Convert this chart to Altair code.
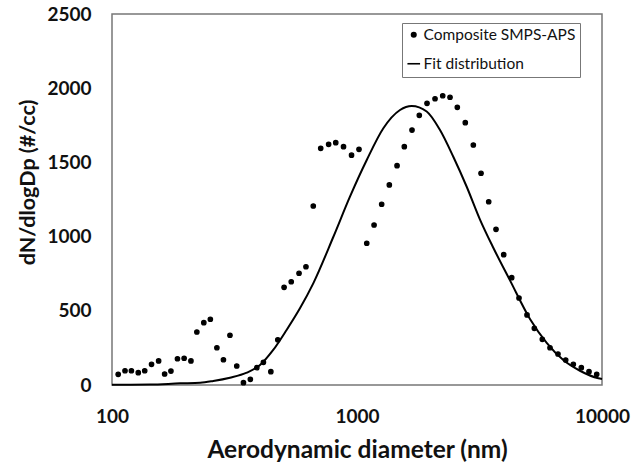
import altair as alt
import pandas as pd

# Composite SMPS-APS measured points
diam = [106, 113, 120, 128, 136, 145, 155, 164, 174, 185, 197, 210, 222, 237, 252, 268,
        285, 303, 323, 344, 367, 390, 415, 445, 475, 504, 539, 580, 619, 663, 711, 766,
        819, 881, 950, 1019, 1096, 1174, 1261, 1355, 1457, 1560, 1677, 1796, 1931, 2082,
        2238, 2397, 2567, 2767, 2984, 3208, 3448, 3693, 3970, 4280, 4584, 4942, 5294,
        5706, 6134, 6613, 7110, 7638, 8234, 8850, 9515]
conc = [72, 96, 96, 83, 96, 139, 162, 74, 94, 177, 180, 162, 357, 420, 443, 251,
        170, 335, 128, 16, 38, 117, 153, 90, 305, 658, 696, 753, 797, 1206, 1595, 1622,
        1633, 1606, 1549, 1588, 955, 1078, 1218, 1348, 1478, 1606, 1718, 1817, 1898, 1929,
        1949, 1939, 1871, 1768, 1617, 1427, 1235, 1049, 878, 723, 586, 472, 382,
        308, 251, 209, 168, 139, 117, 90, 72]

# Fit distribution curve
fit_d = [100, 143, 190, 229, 259, 303, 355, 402, 455, 516, 585, 663, 801, 936, 1096,
         1281, 1498, 1672, 1925, 2182, 2472, 2804, 3177, 3600, 4212, 5082, 5947, 6950,
         8128, 9661, 10000]
fit_y = [1, 3, 11, 15, 27, 49, 83, 135, 236, 371, 517, 685, 999, 1269, 1516,
         1730, 1853, 1880, 1843, 1718, 1538, 1336, 1115, 925, 705, 445, 284, 168,
         96, 45, 40]

series = ["Composite SMPS-APS", "Fit distribution"]

pts = pd.DataFrame({"d": diam, "n": conc, "series": series[0]})
fit = pd.DataFrame({"d": fit_d, "n": fit_y, "series": series[1]})

FONT = "Lato"

x_enc = alt.X("d:Q",
              scale=alt.Scale(type="log", domain=[100, 10000]),
              axis=alt.Axis(values=[100, 1000, 10000], format="d",
                            title="Aerodynamic diameter (nm)",
                            grid=False, ticks=False, domain=False,
                            labelPadding=22, titlePadding=12,
                            labelFontSize=19, labelFontWeight="bold",
                            titleFontSize=24.5, titleFontWeight="bold",
                            labelColor="#111", titleColor="#111",
                            labelFont=FONT, titleFont=FONT, labelFlush=False))
y_enc = alt.Y("n:Q",
              scale=alt.Scale(domain=[0, 2500], nice=False),
              axis=alt.Axis(values=[0, 500, 1000, 1500, 2000, 2500], format="d",
                            title="dN/dlogDp (#/cc)",
                            grid=False, ticks=False, domain=False,
                            labelPadding=21, titlePadding=7,
                            labelFontSize=19, labelFontWeight="bold",
                            titleFontSize=21.5, titleFontWeight="bold",
                            labelColor="#111", titleColor="#111",
                            labelFont=FONT, titleFont=FONT, titleY=168))

points = alt.Chart(pts).mark_point(filled=False, color="black", fill="black",
                                   stroke="black", strokeWidth=1.2,
                                   opacity=1, fillOpacity=1).encode(
    x=x_enc,
    y=y_enc,
    shape=alt.Shape("series:N",
                    scale=alt.Scale(domain=series, range=["circle", "stroke"]),
                    legend=alt.Legend(title=None, orient="none",
                                      legendX=290, legendY=9,
                                      strokeColor="#777", padding=4,
                                      labelFont=FONT, labelFontSize=15.5,
                                      labelColor="#111", rowPadding=12,
                                      symbolFillColor="black",
                                      symbolStrokeColor="black",
                                      symbolStrokeWidth=1.6,
                                      labelOffset=2)),
    size=alt.Size("series:N",
                  scale=alt.Scale(domain=series, range=[20, 160]),
                  legend=alt.Legend(title=None, orient="none",
                                    legendX=290, legendY=9)),
)

line = alt.Chart(fit).mark_line(color="black", strokeWidth=2,
                                 interpolate="monotone").encode(
    x="d:Q", y="n:Q")

chart = alt.layer(line, points).properties(
    width=490, height=371,
    padding={"left": 112, "top": 14, "right": 32, "bottom": 84},
    autosize=alt.AutoSizeParams(type="none"),
    background="white",
).configure_view(stroke="#777", strokeWidth=1.5)

chart.save("out.html", embed_options={"renderer": "svg", "actions": False})
